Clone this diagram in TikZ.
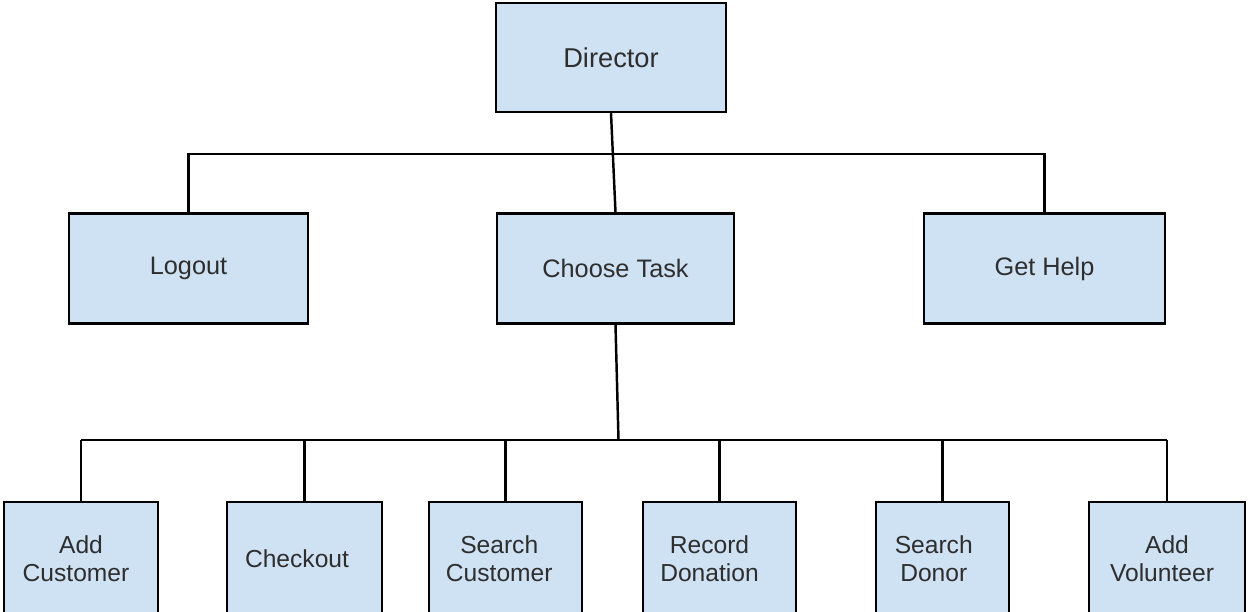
\documentclass[tikz,border=0pt]{standalone}
\usepackage{fontspec}
\setmainfont{Liberation Sans}
\definecolor{boxblue}{HTML}{CFE2F3}
\definecolor{inkgray}{HTML}{2E2E2E}
\tikzset{
	task/.style={draw=black, fill=boxblue, line width=1.4pt, text=inkgray, align=center, inner sep=0pt, font=\fontsize{14}{16}\selectfont},
	link/.style={line width=1.4pt}
}

\begin{document}
\begin{tikzpicture}
			%%%%% START %%%%%
			
			\useasboundingbox (0, 0) rectangle (25.02, 12.24);
			\clip (0, 0) rectangle (25.02, 12.24);
			
			\node[task, minimum width=4.6cm, minimum height=2.18cm, font=\fontsize{15.5}{17}\selectfont] (director) at (12.22, 11.09) {Director};
			
			\node[task, minimum width=4.78cm, minimum height=2.2cm, font=\fontsize{14.4}{16}\selectfont] (logout) at (3.77, 6.87) {Logout};
			\node[task, minimum width=4.74cm, minimum height=2.2cm, font=\fontsize{14.4}{16}\selectfont] (choose) at (12.31, 6.87) {Choose Task};
			\node[task, minimum width=4.82cm, minimum height=2.2cm, font=\fontsize{14.4}{16}\selectfont] (gethelp) at (20.89, 6.87) {Get Help};
			
			\node[task, minimum width=3.08cm, minimum height=2.28cm] (addcust) at (1.62, 1.06) {Add\\Customer\hspace*{0.2cm}};
			\node[task, minimum width=3.1cm, minimum height=2.28cm] (checkout) at (6.09, 1.06) {Checkout\hspace*{0.3cm}};
			\node[task, minimum width=3.06cm, minimum height=2.28cm] (searchcust) at (10.11, 1.06) {Search\hspace*{0.25cm}\\Customer\hspace*{0.25cm}};
			\node[task, minimum width=3.06cm, minimum height=2.28cm] (recdon) at (14.39, 1.06) {Record\hspace*{0.4cm}\\Donation\hspace*{0.4cm}};
			\node[task, minimum width=2.66cm, minimum height=2.28cm] (searchdon) at (18.85, 1.06) {Search\hspace*{0.35cm}\\Donor\hspace*{0.35cm}};
			\node[task, minimum width=3.12cm, minimum height=2.28cm] (addvol) at (23.34, 1.06) {Add\\Volunteer\hspace*{0.2cm}};
			
			\coordinate (topbar) at (0, 9.16);
			\coordinate (lowbar) at (0, 3.44);
			
			\draw[link] (director.south) -- (choose.north);
			\draw[link] (logout.north) -- (logout.north |- topbar) -- (gethelp.north |- topbar) -- (gethelp.north);
			
			\draw[link] (choose.south) -- ([xshift=0.06cm]choose.south |- lowbar);
			\draw[link] (addcust.north |- lowbar) -- (addvol.north |- lowbar);
			\foreach \t in {addcust, checkout, searchcust, recdon, searchdon, addvol}
				\draw[link] (\t.north) -- (\t.north |- lowbar);
			
			%%%%% END %%%%%
		\end{tikzpicture}
\end{document}
